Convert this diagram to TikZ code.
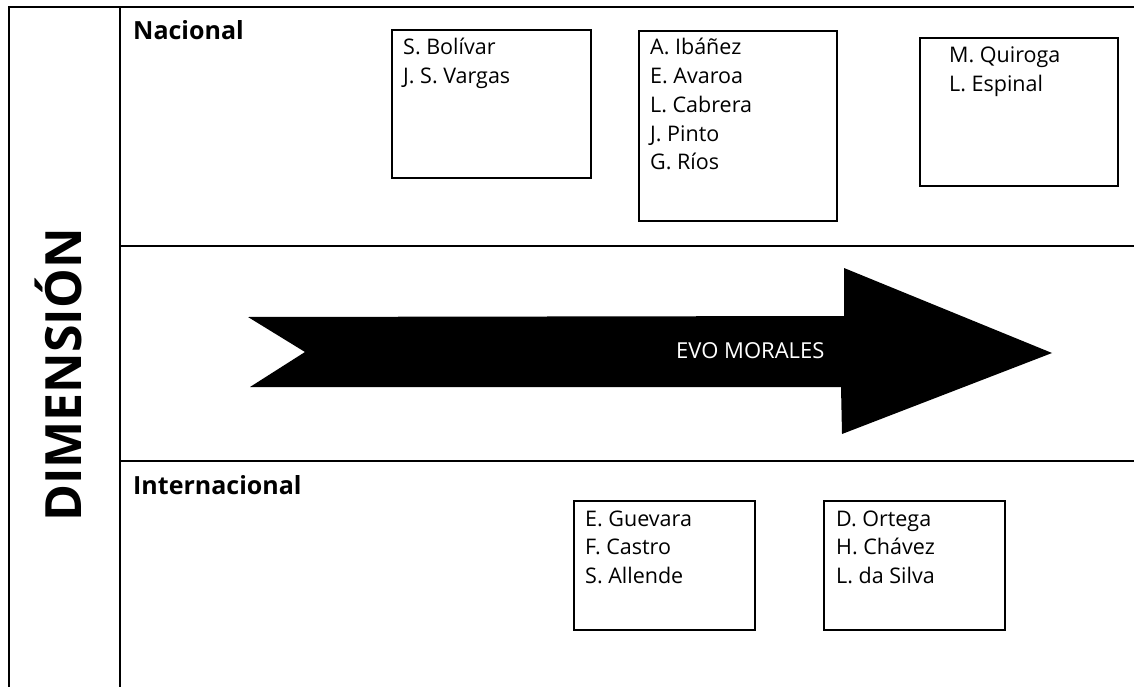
\documentclass[tikz,border=0pt]{standalone}
\usepackage{fontspec}
\setmainfont{Open Sans}
\begin{document}
\begin{tikzpicture}[x=1pt,y=-1pt,
  frame/.style={line width=2.5pt},
  box/.style={draw, line width=2.8pt, inner sep=0pt, outer sep=0pt, anchor=north west},
  item/.style={anchor=base west, inner sep=0pt, font=\fontsize{21.5}{28}\selectfont},
  head/.style={anchor=base west, inner sep=0pt, font=\fontsize{25}{30}\selectfont\bfseries},
  side/.style={anchor=base, inner sep=0pt, rotate=90, font=\fontsize{50}{60}\selectfont\bfseries},
  arrowtext/.style={anchor=base west, inner sep=0pt, text=white, font=\fontsize{22}{26}\selectfont}]
\useasboundingbox (0,0) rectangle (1134,687);
% frame
\coordinate (tl) at (9,7);
\coordinate (bl) at (9,687);
\coordinate (tr) at (1134,7);
\coordinate (dt) at (120,7);
\coordinate (db) at (120,687);
\coordinate (h1l) at (120,246);
\coordinate (h1r) at (1134,246);
\coordinate (h2l) at (120,461);
\coordinate (h2r) at (1134,461);
\draw[frame] (bl) -- (tl) -- (tr);
\draw[frame] (dt) -- (db);
\draw[frame] (h1l) -- (h1r);
\draw[frame] (h2l) -- (h2r);
% labels
\node[side] (dim) at (81,375) {DIMENSIÓN};
\node[head] (nac) at (133,40) {Nacional};
\node[head] (int) at (133,494) {Internacional};
% boxes
\node[box, minimum width=199pt, minimum height=148pt] (b1) at (392,30) {};
\node[box, minimum width=198pt, minimum height=190pt] (b2) at (639,31) {};
\node[box, minimum width=198pt, minimum height=148pt] (b3) at (920,38) {};
\node[box, minimum width=181pt, minimum height=129pt] (b4) at (574,501) {};
\node[box, minimum width=181pt, minimum height=129pt] (b5) at (824,501) {};
% texts
\foreach \t [count=\i] in {S. Bolívar, J. S. Vargas}
  \node[item] (ta\i) at (403,{55+28.7*(\i-1)}) {\t};
\foreach \t [count=\i] in {A. Ibáñez, E. Avaroa, L. Cabrera, J. Pinto, G. Ríos}
  \node[item] (tb\i) at (650,{55+28.7*(\i-1)}) {\t};
\foreach \t [count=\i] in {M. Quiroga, L. Espinal}
  \node[item] (tc\i) at (949,{63+28.7*(\i-1)}) {\t};
\foreach \t [count=\i] in {E. Guevara, F. Castro, S. Allende}
  \node[item] (td\i) at (585,{526+28.6*(\i-1)}) {\t};
\foreach \t [count=\i] in {D. Ortega, H. Chávez, L. da Silva}
  \node[item] (te\i) at (836,{526+28.6*(\i-1)}) {\t};
% big arrow
\fill[black] (248,317) -- (844,316) -- (844,268) -- (1052,353) -- (842,434) -- (841,387) -- (250,387) -- (305,352) -- cycle;
\node[arrowtext] (evo) at (676,358) {EVO MORALES};
\end{tikzpicture}
\end{document}
